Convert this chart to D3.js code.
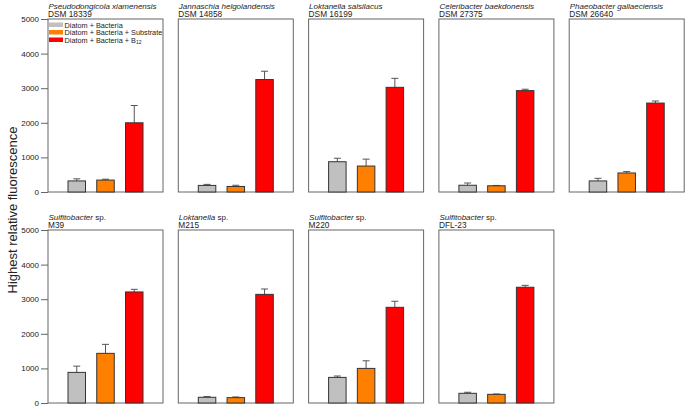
<!DOCTYPE html>
<html>
<head>
<meta charset="utf-8">
<script src="https://cdn.jsdelivr.net/npm/d3@7"></script>
<style>
  body { margin: 0; background: #fff; }
  svg { font-family: "Liberation Sans", Arial, sans-serif; }
</style>
</head>
<body>
<div id="chart"></div>
<script>
// strain names: italic genus/species, optional upright suffix, strain id
const speciesNames = ["Pseudodongicola xiamenensis", "Jannaschia helgolandensis", "Loktanella salsilacus",
  "Celeribacter baekdonensis", "Phaeobacter gallaeciensis", "Sulfitobacter", "Loktanella",
  "Sulfitobacter", "Sulfitobacter"];
const speciesSuffix = ["", "", "", "", "", " sp.", " sp.", " sp.", " sp."];
const strainIds = ["DSM 18339", "DSM 14858", "DSM 16199", "DSM 27375", "DSM 26640", "M39", "M215", "M220", "DFL-23"];

const treatments = ["Diatom + Bacteria", "Diatom + Bacteria + Substrate", "Diatom + Bacteria + B12"];
const colors = ["#c0c0c0", "#ff8000", "#ff0000"];

// highest relative fluorescence, mean and error per treatment
const meanBacteria  = [320, 190, 875, 195, 320, 885, 165, 740, 280];
const errBacteria   = [60, 30, 100, 65, 75, 180, 20, 40, 30];
const meanSubstrate = [345, 160, 750, 180, 550, 1435, 155, 1000, 250];
const errSubstrate  = [25, 35, 200, 10, 40, 260, 20, 220, 10];
const meanB12       = [2000, 3250, 3025, 2930, 2570, 3210, 3140, 2765, 3345];
const errB12        = [500, 240, 260, 40, 60, 75, 155, 175, 55];

const yTicks = [0, 1000, 2000, 3000, 4000, 5000];

const width = 685, height = 407;
const svg = d3.select("#chart").append("svg")
  .attr("width", width)
  .attr("height", height);

const panelW = 115, panelH = 173;
const colStep = 130.3;
const rowTops = [19, 230];
const perRow = 5;

const y = d3.scaleLinear().domain([0, 5000]).range([panelH, 0]);
const x = d3.scalePoint().domain(d3.range(3)).range([0, panelW]).padding(1);
const barW = 17.5;

speciesNames.forEach((name, i) => {
  const row = Math.floor(i / perRow), col = i % perRow;
  const g = svg.append("g")
    .attr("transform", `translate(${48 + col * colStep},${rowTops[row]})`);

  const means = [meanBacteria[i], meanSubstrate[i], meanB12[i]];
  const errs = [errBacteria[i], errSubstrate[i], errB12[i]];

  // frame
  g.append("rect")
    .attr("width", panelW)
    .attr("height", panelH)
    .attr("fill", "none")
    .attr("stroke", "#666")
    .attr("stroke-width", 1);

  // error bars (upper only)
  means.forEach((m, k) => {
    const cx = x(k);
    g.append("line")
      .attr("x1", cx).attr("x2", cx)
      .attr("y1", y(m)).attr("y2", y(m + errs[k]))
      .attr("stroke", "#555").attr("stroke-width", 1);
    g.append("line")
      .attr("x1", cx - 3.5).attr("x2", cx + 3.5)
      .attr("y1", y(m + errs[k])).attr("y2", y(m + errs[k]))
      .attr("stroke", "#555").attr("stroke-width", 1);
  });

  // bars
  g.selectAll("rect.bar")
    .data(means)
    .enter()
    .append("rect")
    .attr("class", "bar")
    .attr("x", (d, k) => x(k) - barW / 2)
    .attr("y", d => y(d))
    .attr("width", barW)
    .attr("height", d => panelH - y(d))
    .attr("fill", (d, k) => colors[k])
    .attr("stroke", "#333")
    .attr("stroke-width", 1);

  // titles
  const t1 = g.append("text")
    .attr("x", 0.5).attr("y", -10.5)
    .attr("font-size", "8px")
    .attr("fill", "#222");
  t1.append("tspan").attr("font-style", "italic").text(name);
  if (speciesSuffix[i]) t1.append("tspan").text(speciesSuffix[i]);
  g.append("text")
    .attr("x", 0).attr("y", -2)
    .attr("font-size", "8.3px")
    .attr("fill", "#222")
    .text(strainIds[i]);

  // y axis on first panel of each row
  if (col === 0) {
    const ax = g.append("g")
      .call(d3.axisLeft(y).tickValues(yTicks).tickFormat(d3.format("d")).tickSize(7).tickPadding(2));
    ax.select(".domain").remove();
    ax.selectAll("line").attr("stroke", "#666");
    ax.selectAll("text")
      .attr("font-size", "8px")
      .attr("fill", "#222")
      .attr("font-family", "Liberation Sans, Arial, sans-serif");
  }

  // legend in first panel
  if (i === 0) {
    const leg = g.append("g").attr("transform", "translate(1,3.5)");
    treatments.forEach((t, k) => {
      leg.append("rect")
        .attr("x", 0).attr("y", k * 7.5)
        .attr("width", 14).attr("height", 4.5)
        .attr("fill", colors[k]);
      const txt = leg.append("text")
        .attr("x", 15.5).attr("y", k * 7.5 + 5)
        .attr("font-size", "7.3px")
        .attr("fill", "#222");
      if (t.endsWith("B12")) {
        txt.append("tspan").text("Diatom + Bacteria + B");
        txt.append("tspan").attr("font-size", "5px").attr("dy", 1.5).text("12");
      } else {
        txt.text(t);
      }
    });
  }
});

// shared y label
svg.append("text")
  .attr("transform", "rotate(-90)")
  .attr("x", -210)
  .attr("y", 17)
  .attr("text-anchor", "middle")
  .attr("font-size", "13px")
  .attr("fill", "#222")
  .text("Highest relative fluorescence");
</script>
</body>
</html>
